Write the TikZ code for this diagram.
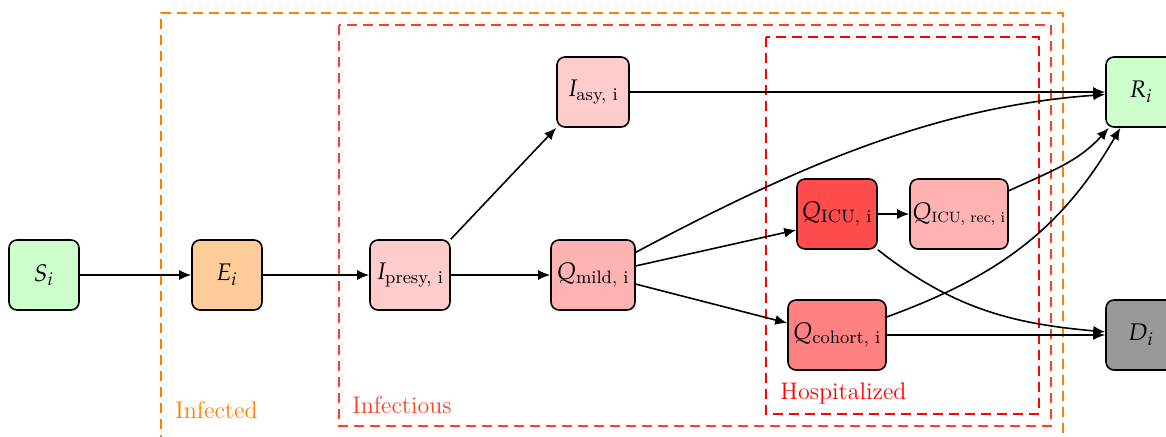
\documentclass[tikz,border=0pt]{standalone}
\usepackage{amsmath}
\usepackage{mathpazo}
\usetikzlibrary{arrows.meta}
\definecolor{cS}{RGB}{204,255,204}
\definecolor{cE}{RGB}{255,204,153}
\definecolor{cI}{RGB}{255,204,204}
\definecolor{cQm}{RGB}{255,178,178}
\definecolor{cQicu}{RGB}{255,77,77}
\definecolor{cQco}{RGB}{255,128,128}
\definecolor{cD}{RGB}{153,153,153}
\definecolor{cInfd}{RGB}{255,128,0}
\definecolor{cInfs}{RGB}{255,64,32}
\definecolor{cHosp}{RGB}{255,0,0}
\tikzset{
  comp/.style={draw=black, thick, rounded corners=4pt, minimum height=35pt, minimum width=35pt, inner sep=1pt},
  flow/.style={-{Latex[length=6pt,width=5pt]}, thick},
  grp/.style={dashed, dash pattern=on 5pt off 3pt, line width=0.7pt},
  grplabel/.style={anchor=west, inner sep=0pt}
}
\begin{document}
\begin{tikzpicture}[x=0.5pt, y=-0.5pt, font=\fontsize{12}{14}\selectfont]
\useasboundingbox (0,0) rectangle (1166,436);
% groups
\draw[grp, cInfd] (161,445) -- (161,13) -- (1063,13) -- (1063,445);
\draw[grp, cInfs] (339,25) rectangle (1051,426);
\draw[grp, cHosp] (766,37) rectangle (1039,414);
\node[grplabel, text=cInfd] (lInfd) at (175,410) {Infected};
\node[grplabel, text=cInfs] (lInfs) at (352,405) {Infectious};
\node[grplabel, text=cHosp] (lHosp) at (780,393) {Hospitalized};
% compartments
\node[comp, fill=cS] (S) at (44,275) {$S_i$};
\node[comp, fill=cE] (E) at (227,275) {$E_i$};
\node[comp, fill=cI, minimum width=40pt] (Ip) at (410,275) {$I_{\text{presy, i}}$};
\node[comp, fill=cI, minimum width=36pt] (Ia) at (593,92) {$I_{\text{asy, i}}$};
\node[comp, fill=cQm, minimum width=42pt] (Qm) at (593,275) {$Q_{\text{mild, i}}$};
\node[comp, fill=cQicu, minimum width=40pt] (Qicu) at (837,214) {$Q_{\text{ICU, i}}$};
\node[comp, fill=cQm, minimum width=46pt] (Qrec) at (959,214) {$Q_{\text{\fontsize{7.5}{9}\selectfont ICU, rec, i}}$};
\node[comp, fill=cQco, minimum width=49pt] (Qco) at (837,335) {$Q_{\text{cohort, i}}$};
\node[comp, fill=cS] (R) at (1141,92) {$R_i$};
\node[comp, fill=cD] (D) at (1141,335) {$D_i$};
% flows
\draw[flow] (S) -- (E);
\draw[flow] (E) -- (Ip);
\draw[flow] (Ip.north east) -- (Ia.south west);
\draw[flow] (Ip) -- (Qm);
\draw[flow] (Ia) -- (R);
\draw[flow] (Qm) to[out=28, in=184, looseness=0.9] (R);
\draw[flow] (Qm.12) -- (Qicu.west |- 0,230);
\draw[flow] (Qm.-12) -- (Qco.west |- 0,323);
\draw[flow] (Qicu) -- (Qrec);
\draw[flow] (Qrec) to[out=25, in=228] (R);
\draw[flow] (Qco) to[out=20, in=240] (R);
\draw[flow] (Qicu.south east) to[out=-38, in=175] (D);
\draw[flow] (Qco) -- (D);
\end{tikzpicture}
\end{document}
